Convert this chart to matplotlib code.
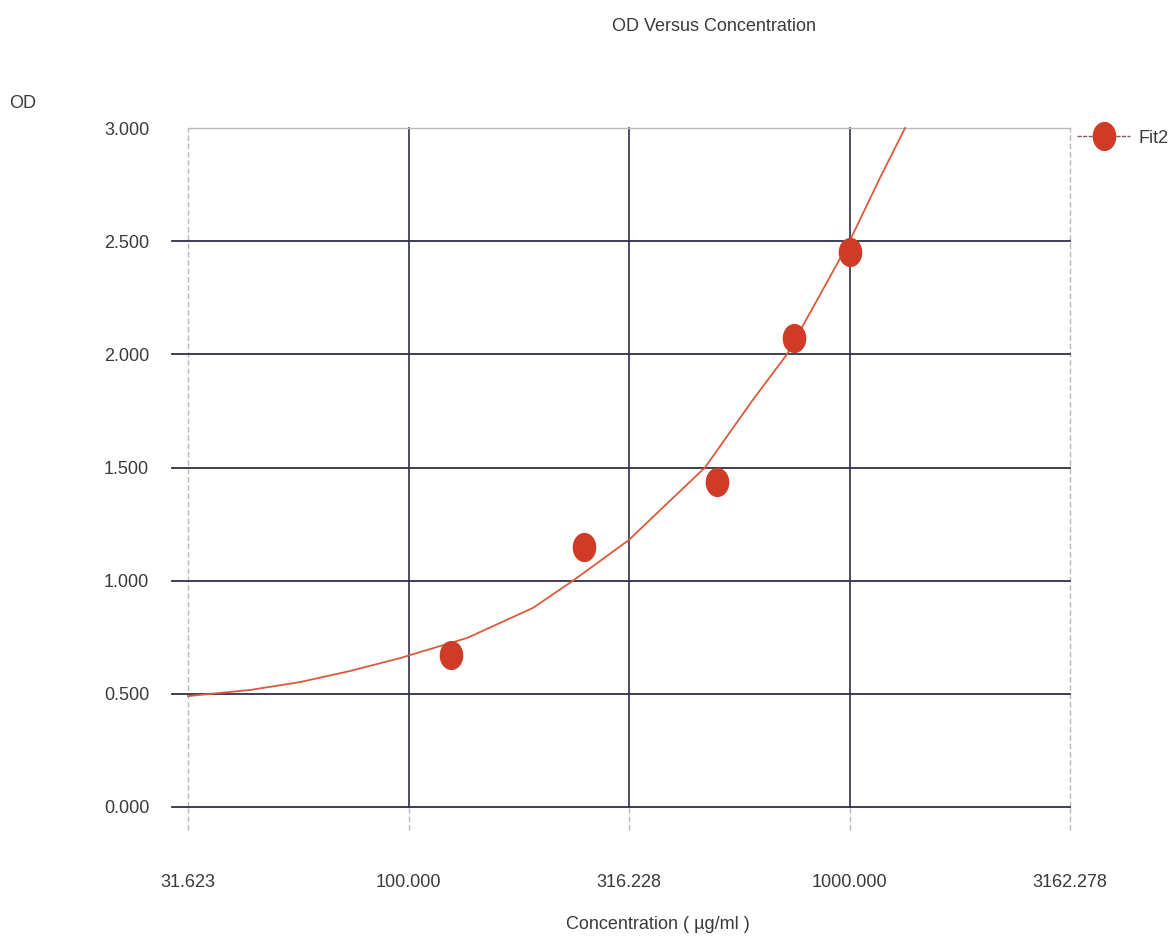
import matplotlib
matplotlib.use("Agg")
import matplotlib.pyplot as plt
from matplotlib.lines import Line2D
from matplotlib.path import Path
import numpy as np

# measured points
conc = [125, 250, 500, 750, 1000]
od = [0.672, 1.149, 1.436, 2.072, 2.452]

# fitted curve
fit_conc = [31.6, 43.7, 56.8, 73.7, 95.7, 135.8, 191.6, 236, 316, 372, 470,
            604, 721, 844, 1000, 1172, 1336]
fit_od = [0.49, 0.517, 0.552, 0.601, 0.658, 0.747, 0.88, 1.0, 1.18, 1.312, 1.50,
          1.80, 2.0, 2.24, 2.50, 2.78, 3.0]

xticks = [31.623, 100.0, 316.228, 1000.0, 3162.278]
yticks = [0.0, 0.5, 1.0, 1.5, 2.0, 2.5, 3.0]

plt.rcParams['font.family'] = ['Liberation Sans', 'DejaVu Sans']
txt = '#3a3a3a'
grid_dark = '#2e3148'
grid_light = '#b8b8bc'
red = '#cf3b26'
curve_c = '#dc5a3c'

# slightly tall ellipse marker
t = np.linspace(0, 2 * np.pi, 60)
ell = Path(np.column_stack([0.8 * np.cos(t), np.sin(t)]), closed=True)

fig = plt.figure(figsize=(11.73, 9.4), dpi=100)
ax = fig.add_axes([0.1603, 0.1415, 0.752, 0.7223])
ax.set_xscale('log')
ax.set_xlim(xticks[0], xticks[-1])
ax.set_ylim(0, 3.0)

for s in ax.spines.values():
    s.set_visible(False)

# grid lines (extend a bit beyond the plot box)
for i, x in enumerate(xticks):
    edge = i in (0, len(xticks) - 1)
    ax.plot([x, x], [0, 3.0], color=grid_light if edge else grid_dark,
            lw=1.0 if edge else 1.2, ls=(0, (4, 2)) if edge else '-',
            clip_on=False, zorder=1)
    ax.plot([x, x], [-0.1, 0], color=grid_light, lw=1.0, ls=(0, (4, 2)),
            clip_on=False, zorder=1)
for j, y in enumerate(yticks):
    top = j == len(yticks) - 1
    x0 = xticks[0] if top else 10 ** 1.464
    ax.plot([x0, xticks[-1]], [y, y],
            color=grid_light if top else grid_dark, lw=1.0 if top else 1.3,
            clip_on=False, zorder=1)

ax.plot(fit_conc, fit_od, color=curve_c, lw=1.3, zorder=3, clip_on=False)
ax.plot(conc, od, ls='none', marker=ell, ms=20, color=red, mec=red, zorder=4)

ax.set_xticks(xticks)
ax.set_xticklabels(['%.3f' % v for v in xticks])
ax.xaxis.set_minor_locator(plt.NullLocator())
ax.set_yticks(yticks)
ax.set_yticklabels(['%.3f' % v for v in yticks])
ax.tick_params(axis='both', length=0, labelsize=13, colors=txt)
ax.tick_params(axis='x', pad=48)
ax.tick_params(axis='y', pad=28)

fig.text(0.609, 0.972, 'OD Versus Concentration', ha='center', va='center',
         fontsize=13, color=txt)
fig.text(0.019, 0.89, 'OD', ha='center', va='center', fontsize=13, color=txt)
fig.text(0.561, 0.016, 'Concentration ( \u00b5g/ml )', ha='center', va='center',
         fontsize=13, color=txt)

handle = Line2D([], [], color='#8a5a5a', lw=1, ls=(0, (3, 1)), marker=ell, ms=20,
                mfc=red, mec=red)
ax.legend([handle], ['Fit2'], loc='center left', bbox_to_anchor=(1.0, 0.985),
          frameon=False, fontsize=13, handlelength=2.9, handletextpad=0.5,
          borderaxespad=0, labelcolor=txt)

fig.savefig('out.png', dpi=100)
